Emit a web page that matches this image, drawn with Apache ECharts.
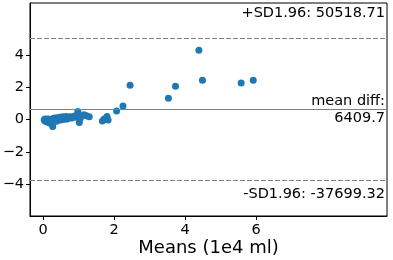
<!DOCTYPE html>
<html><head><meta charset="utf-8">
<script src="https://cdn.jsdelivr.net/npm/echarts@6/dist/echarts.min.js"></script>
<style>html,body{margin:0;padding:0;background:#fff}#c{width:393px;height:260px}</style>
</head><body><div id="c"></div>
<script>
// Means (1e4 ml)
const meansX = [0.03,0.05,0.06,0.08,0.10,0.12,0.14,0.15,0.18,0.20,0.22,0.25,0.27,0.28,0.30,0.32,0.35,0.38,0.40,0.42,0.45,0.48,0.50,0.52,0.55,0.58,0.60,0.62,0.65,0.68,0.72,0.75,0.80,0.85,0.90,0.95,0.98,1.00,1.02,1.05,1.15,1.22,1.30,1.67,1.72,1.80,1.83,2.07,2.25,2.45,3.53,3.73,4.39,4.49,5.58,5.92];
// Differences (1e4 ml)
const diffsY = [-0.02,0.05,-0.10,-0.05,0.02,-0.15,-0.08,0.05,-0.20,-0.10,0.00,-0.25,-0.42,0.08,-0.05,0.10,0.05,-0.10,0.12,0.00,0.10,0.15,-0.02,0.08,0.18,0.10,0.02,0.15,0.20,0.05,0.12,0.18,0.10,0.20,0.15,0.30,0.50,0.25,-0.18,0.10,0.30,0.25,0.18,-0.08,0.05,0.20,-0.02,0.53,0.84,2.13,1.33,2.07,4.29,2.44,2.26,2.44];
const limitValues = [5.051871, 0.640970, -3.769932];
const limitLabels = ["+SD1.96: 50518.71", "mean diff:\n6409.7", "-SD1.96: -37699.32"];
const xTicks = [0, 2, 4, 6];
const yTicks = [-4, -2, 0, 2, 4];

const fmt = v => String(v).replace('-', '\u2212');
const chart = echarts.init(document.getElementById('c'), null, {renderer: 'canvas'});
const lblFont = {fontFamily: 'DejaVu Sans', fontSize: 14.5, color: '#000'};
chart.setOption({
  animation: false,
  grid: {left: 30, right: 6, top: 3, bottom: 44, show: true, borderColor: '#000', borderWidth: 1,
         containLabel: false, outerBoundsMode: 'none'},
  xAxis: {
    type: 'value', min: -0.37, max: 9.69,
    name: 'Means (1e4 ml)', nameLocation: 'middle', nameGap: 23, nameMoveOverlap: false,
    nameTextStyle: {fontFamily: 'DejaVu Sans', fontSize: 18, color: '#000'},
    axisLine: {show: true, onZero: false, lineStyle: {color: '#000', width: 1}},
    axisTick: {show: true, length: 4, lineStyle: {color: '#000'}, customValues: xTicks},
    axisLabel: Object.assign({margin: 7, customValues: xTicks, formatter: fmt}, lblFont),
    splitLine: {show: false}
  },
  yAxis: {
    type: 'value', min: -5.95, max: 7.21,
    axisLine: {show: true, onZero: false, lineStyle: {color: '#000', width: 1}},
    axisTick: {show: true, length: 4, lineStyle: {color: '#000'}, customValues: yTicks},
    axisLabel: Object.assign({margin: 6, customValues: yTicks, formatter: fmt}, lblFont),
    splitLine: {show: false}
  },
  series: [{
    type: 'scatter',
    data: meansX.map((x, i) => [x, diffsY[i]]),
    symbolSize: 7,
    itemStyle: {color: '#1f77b4', opacity: 1},
    markLine: {
      silent: true, symbol: 'none',
      data: [
        {yAxis: limitValues[0], lineStyle: {type: [5, 2], color: '#808080', width: 1},
         label: Object.assign({position: 'insideEndTop', formatter: limitLabels[0], distance: [2, 17]}, lblFont)},
        {yAxis: limitValues[1], lineStyle: {type: 'solid', color: '#808080', width: 1},
         label: Object.assign({position: 'insideEnd', formatter: limitLabels[1], distance: [2, 0], align: 'right', lineHeight: 17}, lblFont)},
        {yAxis: limitValues[2], lineStyle: {type: [5, 2], color: '#808080', width: 1},
         label: Object.assign({position: 'insideEndBottom', formatter: limitLabels[2], distance: [2, 6]}, lblFont)}
      ]
    }
  }]
});
</script></body></html>
